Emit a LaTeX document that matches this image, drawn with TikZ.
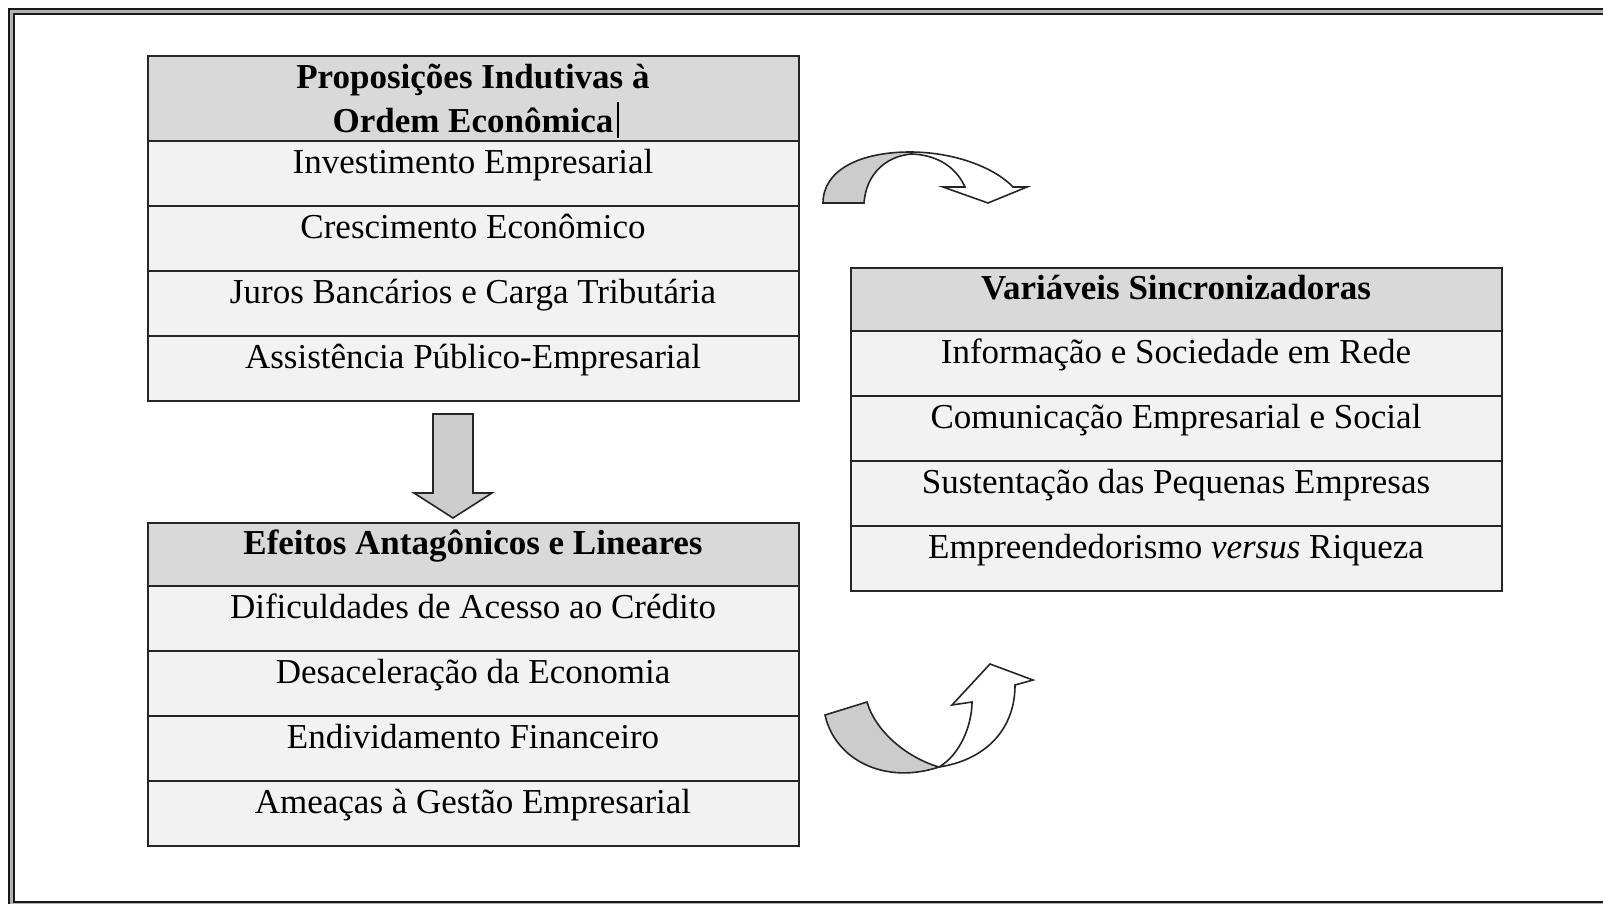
\documentclass[tikz,border=0pt]{standalone}
\usepackage{fontspec}
\setmainfont{Liberation Serif}
\usetikzlibrary{positioning}
\newcommand{\rowfont}{\fontsize{35}{42}\selectfont}
\tikzset{
  rowbox/.style={draw=black!85, line width=2pt, fill=gray!10, minimum width=651pt,
    inner sep=0pt, outer sep=0pt, text height=32pt, text depth=33pt, font=\rowfont},
  headbox/.style={rowbox, fill=gray!30, text height=31pt, text depth=32pt, font=\bfseries\rowfont},
  blockarrow/.style={draw=black!85, line width=1.6pt, fill=gray!40, line join=miter},
  frameline/.style={draw=black!90, line width=2pt, double=gray!60, double distance=2.4pt}
}
\begin{document}
\begin{tikzpicture}[x=1pt, y=-1pt]
\useasboundingbox (0,0) rectangle (1603,903);
\clip (0,0) rectangle (1603,903);
\draw[frameline] (11.5,11.5) rectangle (1620,904.5);
% proposicoes
\node[headbox, anchor=north, text height=32pt, text depth=53pt] (prophead) at (473,56) {Proposições Indutivas à};
\node[anchor=base, inner sep=0pt, font=\bfseries\rowfont] (prophead2) at ([yshift=-44pt]prophead.base) {Ordem Econômica};
\draw[line width=2pt] ([xshift=4pt,yshift=-6pt]prophead2.base east) -- ++(0,-36);
\node[rowbox, below=0pt of prophead] (prop1) {Investimento Empresarial};
\node[rowbox, below=0pt of prop1] (prop2) {Crescimento Econômico};
\node[rowbox, below=0pt of prop2] (prop3) {Juros Bancários e Carga Tributária};
\node[rowbox, below=0pt of prop3] (prop4) {Assistência Público-Empresarial};
% efeitos
\node[headbox, anchor=north] (efhead) at (473,523) {Efeitos Antagônicos e Lineares};
\node[rowbox, below=0pt of efhead] (ef1) {Dificuldades de Acesso ao Crédito};
\node[rowbox, below=0pt of ef1] (ef2) {Desaceleração da Economia};
\node[rowbox, below=0pt of ef2] (ef3) {Endividamento Financeiro};
\node[rowbox, below=0pt of ef3] (ef4) {Ameaças à Gestão Empresarial};
% variaveis
\node[headbox, anchor=north] (varhead) at (1176,268) {Variáveis Sincronizadoras};
\node[rowbox, below=0pt of varhead] (var1) {Informação e Sociedade em Rede};
\node[rowbox, below=0pt of var1] (var2) {Comunicação Empresarial e Social};
\node[rowbox, below=0pt of var2] (var3) {Sustentação das Pequenas Empresas};
\node[rowbox, below=0pt of var3] (var4) {Empreendedorismo \textit{versus} Riqueza};
% seta para baixo
\draw[blockarrow] ([xshift=-40pt,yshift=-13pt]prop4.south) -- ([yshift=-13pt]prop4.south)
  -- ([yshift=-92pt]prop4.south) -- ([xshift=19pt,yshift=-92pt]prop4.south)
  -- ([xshift=-20pt,yshift=5pt]efhead.north)
  -- ([xshift=-59pt,yshift=-92pt]prop4.south) -- ([xshift=-40pt,yshift=-92pt]prop4.south) -- cycle;
% seta curva de cima
\draw[blockarrow, fill=white] (910,152) .. controls (955,152) and (995,168) .. (1013,187)
  -- (1027,187) -- (988,203) -- (943,187) -- (965,187)
  .. controls (955,165) and (935,155) .. (912,154) -- cycle;
\draw[blockarrow] (823,203) .. controls (823,170) and (860,152) .. (910,152)
  -- (912,154) .. controls (885,156) and (866,175) .. (864,203) -- cycle;
% seta curva de baixo
\draw[blockarrow, fill=white] (939,767) .. controls (960,755) and (972,725) .. (972,702)
  -- (952,705) -- (990,664) -- (1033,680) -- (1015,685)
  .. controls (1015,730) and (985,760) .. (939,767) -- cycle;
\draw[blockarrow] (825,715) .. controls (835,760) and (885,785) .. (939,767)
  .. controls (905,757) and (875,730) .. (867,702) -- cycle;
\end{tikzpicture}
\end{document}
